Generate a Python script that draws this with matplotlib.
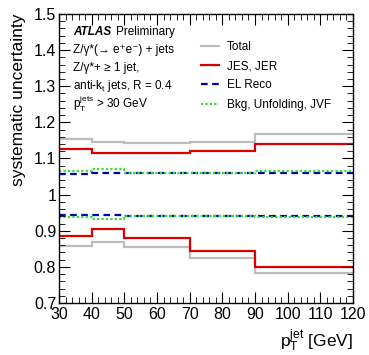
import matplotlib
matplotlib.use("Agg")
import matplotlib.pyplot as plt
from matplotlib.ticker import MultipleLocator
from matplotlib.lines import Line2D

plt.rcParams['font.family'] = ['Liberation Sans', 'DejaVu Sans']
plt.rcParams['mathtext.fontset'] = 'custom'
plt.rcParams['mathtext.rm'] = 'Liberation Sans'
plt.rcParams['mathtext.it'] = 'Liberation Sans:italic'

# bin edges in pT (GeV)
edges = [30, 40, 50, 70, 90, 120]

# upper / lower envelopes for each source
total_up = [1.154, 1.146, 1.143, 1.147, 1.168]
total_dn = [0.858, 0.870, 0.855, 0.825, 0.782]
jes_up = [1.126, 1.114, 1.116, 1.122, 1.141]
jes_dn = [0.886, 0.904, 0.880, 0.845, 0.800]
elreco_up = [1.058, 1.060, 1.060, 1.060, 1.060]
elreco_dn = [0.943, 0.943, 0.942, 0.942, 0.942]
bkg_up = [1.065, 1.070, 1.061, 1.061, 1.065]
bkg_dn = [0.937, 0.932, 0.940, 0.940, 0.937]

labels = ["Total", "JES, JER", "EL Reco", "Bkg, Unfolding, JVF"]
colors = ["#bdbdbd", "#dd0000", "#0000b4", "#33dd33"]
styles = ["-", "-", (0, (3, 2)), (0, (1, 1))]

fig = plt.figure(figsize=(3.69, 3.55), dpi=100)
ax = fig.add_axes([59/369, 1 - 303/355, 294/369, 289/355])

series = [(total_up, total_dn), (jes_up, jes_dn), (elreco_up, elreco_dn), (bkg_up, bkg_dn)]
for (up, dn), c, ls in zip(series, colors, styles):
    for vals in (up, dn):
        ax.stairs(vals, edges, baseline=None, color=c, linestyle=ls, linewidth=1.6)

ax.set_xlim(30, 120)
ax.set_ylim(0.7, 1.5)
ax.xaxis.set_major_locator(MultipleLocator(10))
ax.xaxis.set_minor_locator(MultipleLocator(2))
ax.yaxis.set_major_locator(MultipleLocator(0.1))
ax.yaxis.set_minor_locator(MultipleLocator(0.02))
ax.yaxis.set_major_formatter(plt.FuncFormatter(lambda v, p: "1" if abs(v-1) < 1e-6 else "%.1f" % v))
ax.tick_params(which='both', direction='in', top=True, right=True, labelsize=11.5)
ax.tick_params(which='major', length=8)
ax.tick_params(which='minor', length=4)
ax.tick_params(axis='x', pad=3)
ax.tick_params(axis='y', pad=2)
for s in ax.spines.values():
    s.set_linewidth(1.0)

ax.set_ylabel("systematic uncertainty", fontsize=12.5, loc='top', labelpad=6)
ax.set_xlabel(r"p$_\mathregular{T}^\mathregular{jet}$ [GeV]", fontsize=12.5, loc='right')

# text block
tx = (73 - 59) / 294
def ty(ypix):
    return 1 - (ypix - 14) / 289
fs = 8.5
ax.text(tx, ty(32), "ATLAS", transform=ax.transAxes, fontsize=fs, fontweight='bold',
        style='italic', va='center')
ax.text((116 - 59) / 294, ty(32), "Preliminary", transform=ax.transAxes, fontsize=fs, va='center')
ax.text(tx, ty(50), "Z/γ*(→ e⁺e⁻) + jets", transform=ax.transAxes, fontsize=fs, va='center')
ax.text(tx, ty(68), "Z/γ*+ ≥ 1 jet,", transform=ax.transAxes, fontsize=fs, va='center')
ax.text(tx, ty(86), r"anti-k$_\mathregular{t}$ jets, R = 0.4", transform=ax.transAxes,
        fontsize=fs, va='center')
ax.text(tx, ty(104), r"p$_\mathregular{T}^\mathregular{jets}$ > 30 GeV", transform=ax.transAxes,
        fontsize=fs, va='center')

handles = [Line2D([], [], color=c, linestyle=ls, linewidth=1.6) for c, ls in zip(colors, styles)]
ax.legend(handles, labels, loc='upper left', bbox_to_anchor=(196/294 - 0.2, 1 - 22/289),
          frameon=False, fontsize=fs, handlelength=1.5, handletextpad=0.7, labelspacing=0.62,
          borderaxespad=0)

fig.savefig("out.png", dpi=100)
